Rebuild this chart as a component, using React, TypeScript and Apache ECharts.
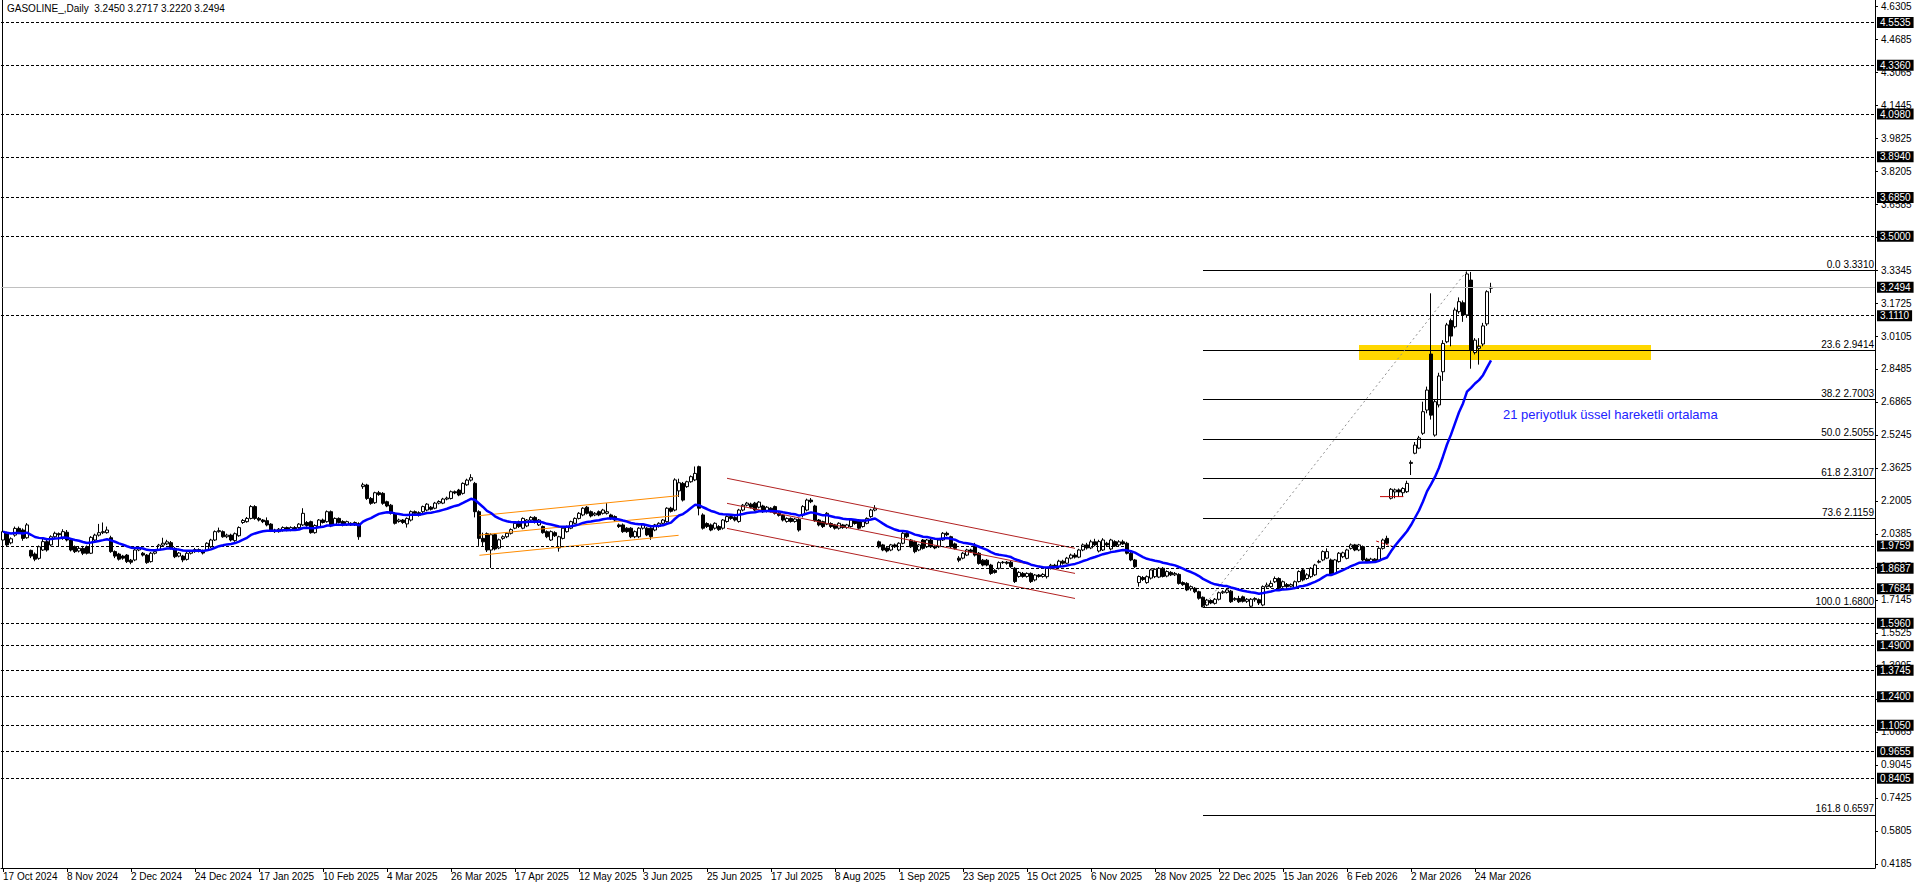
import React, { useEffect, useRef } from "react";
import * as echarts from "echarts";

// ---------- texts ----------
const titleText = "GASOLINE_,Daily  3.2450 3.2717 3.2220 3.2494";
const emaNote = "21 periyotluk üssel hareketli ortalama";

// ---------- axes ----------
const dateLabels = [
  "17 Oct 2024", "8 Nov 2024", "2 Dec 2024", "24 Dec 2024", "17 Jan 2025", "10 Feb 2025",
  "4 Mar 2025", "26 Mar 2025", "17 Apr 2025", "12 May 2025", "3 Jun 2025", "25 Jun 2025",
  "17 Jul 2025", "8 Aug 2025", "1 Sep 2025", "23 Sep 2025", "15 Oct 2025", "6 Nov 2025",
  "28 Nov 2025", "22 Dec 2025", "15 Jan 2026", "6 Feb 2026", "2 Mar 2026", "24 Mar 2026",
];
const barsPerDateLabel = 16;
const priceTicks = [
  "0.4185", "0.5805", "0.7425", "0.9045", "1.0665", "1.2285", "1.3905", "1.5525", "1.7145",
  "1.8765", "2.0385", "2.2005", "2.3625", "2.5245", "2.6865", "2.8485", "3.0105", "3.1725",
  "3.3345", "3.4965", "3.6585", "3.8205", "3.9825", "4.1445", "4.3065", "4.4685", "4.6305",
];

// ---------- horizontal lines ----------
const dashedLevels = [
  4.5535, 4.336, 4.098, 3.894, 3.685, 3.5, 3.111, 1.9759, 1.8687, 1.7684, 1.596, 1.49,
  1.3745, 1.24, 1.105, 0.9655, 0.8405,
];
const bidPrice = 3.2494;

// ---------- fibonacci ----------
const fibFrom = [300, 1.68];
const fibTo = [366, 3.331];
const fibPct = ["0.0", "23.6", "38.2", "50.0", "61.8", "73.6", "100.0", "161.8"];
const fibPrice = [3.331, 2.9414, 2.7003, 2.5055, 2.3107, 2.1159, 1.68, 0.6597];

// ---------- drawn objects (bar index, price) ----------
const orangeTop = [[119.1, 2.1285], [168.9, 2.2267]];
const orangeMid = [[119.1, 2.033], [168.9, 2.13]];
const orangeBot = [[119.1, 1.934], [168.9, 2.032]];
const redTop = [[181, 2.312], [268, 1.968]];
const redMid = [[181, 2.189], [268, 1.845]];
const redBot = [[181, 2.066], [268, 1.722]];
const redMarkA = [[343.3, 2.004], [347.6, 1.976]];
const redMarkB = [[344.25, 2.222], [350.1, 2.222]];
const yellowZone = [[339, 2.966], [412, 2.893]];
const emaPeriod = 21;

// ---------- candles [open, close, low, high] ----------
const seg00 = [
  [2.009, 2.05, 2.0, 2.06], [2.045, 1.985, 1.975, 2.05], [1.995, 2.015, 1.988, 2.022], [2.033, 2.066, 2.025, 2.075],
  [2.066, 2.045, 2.038, 2.075], [2.058, 2.017, 2.005, 2.066], [2.02, 2.083, 2.015, 2.092], [1.958, 1.93, 1.92, 1.962],
  [1.94, 1.915, 1.905, 1.948], [1.919, 1.976, 1.912, 1.982], [1.96, 2.001, 1.955, 2.018], [2.001, 1.96, 1.952, 2.01],
  [1.985, 2.025, 1.978, 2.032], [2.025, 2.042, 2.018, 2.05], [2.04, 2.035, 1.976, 2.046], [2.017, 2.05, 2.01, 2.062],
];
const seg01 = [
  [2.047, 2.009, 2.002, 2.058], [2.009, 1.96, 1.953, 2.015], [1.976, 1.952, 1.945, 1.982], [1.955, 1.968, 1.948, 1.975],
  [1.968, 1.944, 1.935, 1.98], [1.976, 1.944, 1.938, 1.982], [1.944, 2.022, 1.94, 2.028], [2.009, 2.033, 2.004, 2.04],
  [2.033, 2.045, 2.026, 2.088], [2.045, 2.05, 2.038, 2.095], [2.045, 2.058, 2.04, 2.075], [2.02, 1.952, 1.946, 2.03],
  [1.952, 1.93, 1.92, 1.958], [1.94, 1.915, 1.908, 1.946], [1.93, 1.92, 1.912, 1.936], [1.935, 1.903, 1.896, 1.94],
];
const seg02 = [
  [1.91, 1.9, 1.89, 1.916], [1.911, 1.96, 1.905, 1.965], [1.96, 1.97, 1.954, 1.978], [1.944, 1.935, 1.928, 1.95],
  [1.935, 1.898, 1.892, 1.94], [1.903, 1.944, 1.898, 1.95], [1.944, 1.952, 1.938, 1.958], [1.96, 1.984, 1.955, 1.99],
  [1.984, 1.993, 1.978, 2.02], [1.99, 2.0, 1.984, 2.01], [1.996, 1.968, 1.962, 2.004], [1.968, 1.927, 1.92, 1.974],
  [1.93, 1.945, 1.924, 1.95], [1.93, 1.911, 1.9, 1.936], [1.914, 1.944, 1.908, 1.95], [1.944, 1.952, 1.938, 1.958],
];
const seg03 = [
  [1.952, 1.962, 1.946, 1.97], [1.962, 1.955, 1.948, 1.968], [1.955, 1.945, 1.938, 1.962], [1.96, 1.993, 1.955, 1.998],
  [1.976, 2.009, 1.97, 2.015], [2.009, 2.05, 2.004, 2.056], [2.05, 2.055, 2.045, 2.07], [2.05, 2.025, 2.02, 2.056],
  [2.025, 2.033, 2.018, 2.04], [2.033, 2.009, 2.002, 2.04], [2.006, 2.04, 2.0, 2.046], [2.03, 2.07, 2.025, 2.076],
  [2.095, 2.105, 2.088, 2.112], [2.099, 2.115, 2.094, 2.122], [2.115, 2.173, 2.11, 2.18], [2.173, 2.115, 2.108, 2.18],
];
const seg04 = [
  [2.115, 2.107, 2.1, 2.122], [2.107, 2.099, 2.092, 2.112], [2.104, 2.083, 2.076, 2.12], [2.087, 2.055, 2.048, 2.092],
  [2.058, 2.05, 2.044, 2.064], [2.05, 2.062, 2.045, 2.068], [2.055, 2.07, 2.05, 2.076], [2.07, 2.058, 2.052, 2.075],
  [2.058, 2.07, 2.052, 2.076], [2.07, 2.062, 2.056, 2.077], [2.07, 2.087, 2.064, 2.092], [2.083, 2.14, 2.078, 2.165],
  [2.095, 2.08, 2.074, 2.102], [2.099, 2.045, 2.04, 2.104], [2.045, 2.08, 2.04, 2.086], [2.074, 2.107, 2.068, 2.112],
];
const seg05 = [
  [2.107, 2.095, 2.09, 2.114], [2.099, 2.148, 2.094, 2.154], [2.148, 2.078, 2.072, 2.154], [2.083, 2.115, 2.078, 2.12],
  [2.115, 2.095, 2.09, 2.12], [2.1, 2.083, 2.076, 2.106], [2.083, 2.099, 2.078, 2.104], [2.091, 2.083, 2.078, 2.096],
  [2.083, 2.095, 2.078, 2.1], [2.09, 2.025, 2.01, 2.096], [2.271, 2.28, 2.26, 2.29], [2.279, 2.213, 2.206, 2.285],
  [2.213, 2.189, 2.182, 2.22], [2.192, 2.241, 2.186, 2.246], [2.241, 2.232, 2.226, 2.25], [2.238, 2.189, 2.182, 2.244],
];
const seg06 = [
  [2.197, 2.176, 2.17, 2.202], [2.18, 2.14, 2.134, 2.186], [2.14, 2.091, 2.085, 2.146], [2.1, 2.107, 2.094, 2.114],
  [2.107, 2.095, 2.088, 2.112], [2.088, 2.115, 2.07, 2.12], [2.107, 2.148, 2.1, 2.154], [2.148, 2.14, 2.134, 2.154],
  [2.143, 2.13, 2.124, 2.15], [2.148, 2.173, 2.142, 2.178], [2.156, 2.185, 2.15, 2.19], [2.17, 2.16, 2.154, 2.176],
  [2.165, 2.19, 2.16, 2.196], [2.19, 2.198, 2.184, 2.204], [2.19, 2.21, 2.185, 2.216], [2.21, 2.215, 2.204, 2.222],
];
const seg07 = [
  [2.213, 2.246, 2.208, 2.252], [2.246, 2.24, 2.234, 2.252], [2.254, 2.23, 2.224, 2.26], [2.238, 2.287, 2.232, 2.292],
  [2.28, 2.303, 2.275, 2.31], [2.303, 2.315, 2.296, 2.332], [2.287, 2.148, 2.12, 2.294], [2.148, 2.017, 1.98, 2.155],
  [2.017, 2.0, 1.98, 2.045], [2.04, 1.96, 1.95, 2.046], [1.96, 2.035, 1.872, 2.042], [2.035, 1.965, 1.958, 2.04],
  [1.97, 2.01, 1.964, 2.016], [2.017, 2.025, 2.01, 2.032], [2.025, 2.042, 2.018, 2.048], [2.042, 2.06, 2.036, 2.066],
];
const seg08 = [
  [2.067, 2.091, 2.062, 2.096], [2.099, 2.075, 2.068, 2.104], [2.067, 2.115, 2.062, 2.12], [2.078, 2.107, 2.072, 2.112],
  [2.107, 2.12, 2.1, 2.126], [2.12, 2.095, 2.09, 2.126], [2.083, 2.107, 2.078, 2.112], [2.075, 2.045, 2.04, 2.08],
  [2.05, 2.025, 2.018, 2.056], [2.009, 2.05, 2.004, 2.056], [2.045, 2.03, 2.024, 2.052], [1.97, 2.025, 1.952, 2.03],
  [2.017, 2.067, 2.012, 2.072], [2.05, 2.075, 2.045, 2.08], [2.067, 2.099, 2.062, 2.104], [2.091, 2.115, 2.086, 2.12],
];
const seg09 = [
  [2.115, 2.14, 2.11, 2.146], [2.132, 2.165, 2.126, 2.17], [2.17, 2.14, 2.134, 2.176], [2.148, 2.127, 2.12, 2.154],
  [2.132, 2.14, 2.126, 2.146], [2.148, 2.132, 2.126, 2.154], [2.14, 2.156, 2.134, 2.162], [2.14, 2.148, 2.134, 2.19],
  [2.132, 2.115, 2.108, 2.138], [2.124, 2.107, 2.1, 2.13], [2.083, 2.075, 2.068, 2.09], [2.083, 2.05, 2.044, 2.09],
  [2.067, 2.05, 2.044, 2.072], [2.067, 2.025, 2.018, 2.072], [2.025, 2.05, 2.018, 2.056], [2.025, 2.067, 2.018, 2.072],
];
const seg10 = [
  [2.067, 2.083, 2.06, 2.09], [2.067, 2.034, 2.028, 2.072], [2.067, 2.025, 2.01, 2.072], [2.058, 2.083, 2.052, 2.088],
  [2.075, 2.091, 2.07, 2.096], [2.091, 2.107, 2.086, 2.112], [2.099, 2.165, 2.094, 2.17], [2.165, 2.15, 2.144, 2.172],
  [2.156, 2.304, 2.15, 2.312], [2.25, 2.29, 2.22, 2.31], [2.287, 2.205, 2.198, 2.294], [2.271, 2.295, 2.265, 2.3],
  [2.295, 2.32, 2.29, 2.326], [2.304, 2.336, 2.298, 2.37], [2.369, 2.165, 2.13, 2.374], [2.132, 2.067, 2.06, 2.14],
];
const seg11 = [
  [2.09, 2.075, 2.068, 2.096], [2.083, 2.058, 2.052, 2.09], [2.067, 2.091, 2.06, 2.096], [2.075, 2.06, 2.054, 2.082],
  [2.067, 2.107, 2.06, 2.112], [2.1, 2.124, 2.094, 2.13], [2.124, 2.115, 2.108, 2.13], [2.12, 2.107, 2.1, 2.126],
  [2.1, 2.156, 2.094, 2.162], [2.156, 2.18, 2.15, 2.186], [2.18, 2.19, 2.174, 2.196], [2.185, 2.17, 2.164, 2.192],
  [2.19, 2.156, 2.15, 2.196], [2.17, 2.195, 2.164, 2.2], [2.176, 2.148, 2.142, 2.182], [2.15, 2.17, 2.144, 2.176],
];
const seg12 = [
  [2.165, 2.15, 2.144, 2.17], [2.173, 2.14, 2.134, 2.178], [2.14, 2.13, 2.124, 2.146], [2.13, 2.107, 2.1, 2.136],
  [2.1, 2.115, 2.094, 2.12], [2.115, 2.1, 2.094, 2.12], [2.1, 2.112, 2.094, 2.118], [2.11, 2.058, 2.05, 2.116],
  [2.132, 2.173, 2.12, 2.18], [2.156, 2.205, 2.15, 2.212], [2.205, 2.197, 2.19, 2.215], [2.176, 2.104, 2.098, 2.182],
  [2.107, 2.083, 2.076, 2.112], [2.099, 2.075, 2.068, 2.104], [2.087, 2.14, 2.082, 2.146], [2.09, 2.075, 2.068, 2.096],
];
const seg13 = [
  [2.083, 2.067, 2.06, 2.088], [2.067, 2.091, 2.06, 2.096], [2.083, 2.07, 2.064, 2.088], [2.07, 2.083, 2.064, 2.088],
  [2.075, 2.107, 2.07, 2.112], [2.107, 2.09, 2.084, 2.112], [2.107, 2.067, 2.06, 2.112], [2.075, 2.099, 2.07, 2.104],
  [2.091, 2.115, 2.086, 2.12], [2.124, 2.156, 2.118, 2.162], [2.156, 2.165, 2.15, 2.18], [2.0, 1.976, 1.968, 2.006],
  [1.985, 1.96, 1.954, 1.99], [1.97, 1.955, 1.948, 1.976], [1.96, 1.985, 1.954, 1.99], [1.985, 1.976, 1.97, 1.992],
];
const seg14 = [
  [1.96, 1.993, 1.954, 1.998], [1.993, 2.042, 1.988, 2.048], [2.042, 2.025, 2.018, 2.048], [2.009, 1.976, 1.97, 2.014],
  [2.0, 1.952, 1.944, 2.006], [1.96, 1.985, 1.954, 1.99], [2.009, 1.968, 1.962, 2.014], [1.976, 2.009, 1.97, 2.014],
  [2.009, 1.976, 1.97, 2.014], [1.976, 1.97, 1.964, 1.982], [1.976, 2.009, 1.97, 2.014], [2.009, 2.042, 2.004, 2.048],
  [2.042, 2.035, 2.028, 2.05], [2.025, 1.976, 1.97, 2.03], [1.99, 1.968, 1.962, 1.996], [1.92, 1.91, 1.9, 1.93],
];
const seg15 = [
  [1.92, 1.944, 1.914, 1.95], [1.935, 1.96, 1.93, 1.966], [1.96, 1.952, 1.946, 1.966], [1.976, 1.935, 1.928, 1.995],
  [1.944, 1.894, 1.888, 1.95], [1.91, 1.886, 1.88, 1.916], [1.91, 1.886, 1.88, 1.916], [1.886, 1.845, 1.838, 1.892],
  [1.86, 1.85, 1.844, 1.866], [1.87, 1.898, 1.864, 1.904], [1.898, 1.9, 1.892, 1.906], [1.9, 1.895, 1.888, 1.906],
  [1.9, 1.878, 1.872, 1.906], [1.87, 1.805, 1.798, 1.876], [1.83, 1.85, 1.824, 1.856], [1.845, 1.83, 1.824, 1.852],
];
const seg16 = [
  [1.83, 1.845, 1.824, 1.85], [1.845, 1.805, 1.798, 1.85], [1.813, 1.837, 1.806, 1.842], [1.837, 1.83, 1.824, 1.842],
  [1.83, 1.84, 1.824, 1.846], [1.829, 1.87, 1.82, 1.876], [1.87, 1.885, 1.864, 1.892], [1.885, 1.878, 1.87, 1.892],
  [1.878, 1.905, 1.872, 1.912], [1.905, 1.895, 1.888, 1.912], [1.895, 1.92, 1.89, 1.926], [1.92, 1.935, 1.914, 1.942],
  [1.935, 1.925, 1.918, 1.945], [1.925, 1.96, 1.92, 1.966], [1.96, 1.985, 1.954, 1.992], [1.985, 1.97, 1.962, 1.995],
];
const seg17 = [
  [1.97, 2.0, 1.964, 2.01], [2.0, 1.985, 1.978, 2.015], [1.955, 2.001, 1.948, 2.01], [1.96, 2.009, 1.955, 2.018],
  [1.993, 1.985, 1.978, 2.0], [1.965, 2.009, 1.958, 2.015], [2.001, 1.98, 1.975, 2.008], [1.985, 2.0, 1.98, 2.008],
  [2.0, 1.99, 1.985, 2.01], [1.993, 1.944, 1.938, 2.0], [1.944, 1.911, 1.905, 1.95], [1.911, 1.878, 1.872, 1.916],
  [1.8, 1.83, 1.78, 1.835], [1.825, 1.815, 1.808, 1.832], [1.8, 1.829, 1.794, 1.835], [1.822, 1.862, 1.815, 1.868],
];
const seg18 = [
  [1.829, 1.865, 1.822, 1.87], [1.827, 1.87, 1.822, 1.876], [1.87, 1.83, 1.825, 1.876], [1.832, 1.854, 1.826, 1.86],
  [1.85, 1.838, 1.832, 1.856], [1.838, 1.845, 1.832, 1.852], [1.84, 1.796, 1.79, 1.846], [1.8, 1.79, 1.784, 1.806],
  [1.796, 1.764, 1.758, 1.802], [1.77, 1.78, 1.76, 1.786], [1.772, 1.755, 1.748, 1.778], [1.755, 1.723, 1.716, 1.76],
  [1.728, 1.68, 1.68, 1.732], [1.69, 1.714, 1.684, 1.72], [1.712, 1.7, 1.694, 1.718], [1.698, 1.718, 1.692, 1.724],
];
const seg19 = [
  [1.718, 1.75, 1.712, 1.756], [1.75, 1.755, 1.744, 1.762], [1.752, 1.764, 1.746, 1.772], [1.758, 1.706, 1.7, 1.764],
  [1.716, 1.722, 1.71, 1.728], [1.722, 1.706, 1.7, 1.735], [1.73, 1.708, 1.702, 1.736], [1.708, 1.718, 1.7, 1.724],
  [1.684, 1.718, 1.676, 1.724], [1.716, 1.722, 1.706, 1.728], [1.716, 1.7, 1.69, 1.722], [1.69, 1.78, 1.684, 1.786],
  [1.78, 1.788, 1.774, 1.8], [1.78, 1.796, 1.774, 1.81], [1.804, 1.82, 1.798, 1.83], [1.82, 1.772, 1.766, 1.826],
];
const seg20 = [
  [1.78, 1.804, 1.774, 1.81], [1.79, 1.78, 1.774, 1.798], [1.782, 1.79, 1.776, 1.796], [1.773, 1.804, 1.768, 1.81],
  [1.805, 1.854, 1.8, 1.86], [1.862, 1.813, 1.806, 1.868], [1.82, 1.838, 1.814, 1.846], [1.829, 1.87, 1.822, 1.876],
  [1.838, 1.886, 1.832, 1.892], [1.9, 1.904, 1.894, 1.912], [1.911, 1.952, 1.905, 1.958], [1.92, 1.952, 1.915, 1.968],
  [1.911, 1.838, 1.832, 1.918], [1.845, 1.911, 1.838, 1.916], [1.903, 1.944, 1.898, 1.95], [1.927, 1.946, 1.92, 1.952],
];
const seg21 = [
  [1.919, 1.96, 1.914, 1.966], [1.968, 1.985, 1.962, 1.992], [1.985, 1.96, 1.954, 1.99], [1.96, 1.985, 1.954, 1.99],
  [1.976, 1.911, 1.905, 1.982], [1.915, 1.903, 1.896, 1.922], [1.903, 1.915, 1.896, 1.922], [1.915, 1.905, 1.898, 1.92],
  [1.911, 1.968, 1.905, 1.974], [1.968, 2.009, 1.962, 2.016], [2.017, 1.993, 1.986, 2.03], [2.214, 2.258, 2.208, 2.264],
  [2.245, 2.255, 2.214, 2.262], [2.255, 2.245, 2.22, 2.262], [2.241, 2.262, 2.222, 2.268], [2.246, 2.287, 2.24, 2.3],
];
const seg22 = [
  [2.385, 2.39, 2.328, 2.4], [2.435, 2.475, 2.43, 2.49], [2.46, 2.51, 2.455, 2.52], [2.533, 2.639, 2.525, 2.688],
  [2.647, 2.745, 2.631, 2.762], [2.922, 2.622, 2.6, 3.22], [2.524, 2.688, 2.516, 2.7], [2.672, 2.814, 2.66, 2.83],
  [2.835, 2.974, 2.79, 2.99], [2.982, 3.065, 2.975, 3.075], [3.086, 3.01, 2.96, 3.096], [3.056, 3.138, 3.048, 3.15],
  [3.13, 3.179, 3.12, 3.2], [3.174, 3.114, 3.08, 3.185], [3.114, 3.315, 3.1, 3.331], [3.285, 2.942, 2.85, 3.325],
];
const seg23 = [
  [2.929, 2.99, 2.92, 3.0], [2.95, 2.96, 2.87, 3.0], [2.971, 3.06, 2.96, 3.075], [3.07, 3.228, 3.06, 3.235],
  [3.245, 3.2494, 3.222, 3.2717],
];

const candles = [
  ...seg00, ...seg01, ...seg02, ...seg03, ...seg04, ...seg05, ...seg06, ...seg07, ...seg08, ...seg09,
  ...seg10, ...seg11, ...seg12, ...seg13, ...seg14, ...seg15, ...seg16, ...seg17, ...seg18, ...seg19,
  ...seg20, ...seg21, ...seg22, ...seg23,
];

const FONT = '"Liberation Sans", Arial, sans-serif';
const X_MAX = 468;

function buildOption() {
  const candleData = candles.map((c, i) => [i, c[0], c[1], c[2], c[3]]);
  // 21-period exponential moving average of the closes (indicator of the chart)
  const k = 2 / (emaPeriod + 1);
  const ema: number[][] = [];
  let e = candles[0][1];
  candles.forEach((c, i) => {
    e = i === 0 ? c[1] : e + k * (c[1] - e);
    ema.push([i, e]);
  });

  const priceTickValues = priceTicks.map((s) => parseFloat(s));
  const dateTickBars = dateLabels.map((_, i) => i * barsPerDateLabel);

  const boxLabel = {
    show: true,
    position: "end",
    distance: 2,
    color: "#fff",
    backgroundColor: "#000",
    padding: [1, 3, 0, 3],
    fontSize: 10,
    fontFamily: FONT,
  };

  const markLines: any[] = [];
  dashedLevels.forEach((v) => {
    markLines.push({
      yAxis: v,
      lineStyle: { color: "#000", width: 1, type: [3, 2] },
      label: { ...boxLabel, formatter: v.toFixed(4) },
    });
  });
  markLines.push({
    yAxis: bidPrice,
    lineStyle: { color: "#c0c0c0", width: 1, type: "solid" },
    label: { ...boxLabel, formatter: bidPrice.toFixed(4) },
  });
  fibPrice.forEach((p, i) => {
    markLines.push([
      {
        coord: [fibFrom[0], p],
        lineStyle: { color: "#000", width: 1, type: "solid" },
        label: {
          show: true,
          position: "insideEndTop",
          distance: 1,
          formatter: `${fibPct[i]} ${p.toFixed(4)}`,
          color: "#000",
          fontSize: 10,
          fontFamily: FONT,
        },
      },
      { coord: [X_MAX, p] },
    ]);
  });
  markLines.push([
    {
      coord: fibFrom,
      lineStyle: { color: "#909090", width: 1, type: [2, 3] },
      label: { show: false },
    },
    { coord: fibTo },
  ]);

  const trend = (pts: number[][], color: string, type: any = "solid") => ({
    type: "line",
    data: pts,
    symbol: "none",
    showSymbol: false,
    silent: true,
    z: 4,
    lineStyle: { color, width: 1, type },
  });

  return {
    animation: false,
    backgroundColor: "#fff",
    grid: { left: 1, right: 41, top: 0, bottom: 20, containLabel: false },
    xAxis: {
      type: "value",
      min: -0.5,
      max: X_MAX,
      axisLine: { show: true, onZero: false, lineStyle: { color: "#000", width: 1 } },
      axisTick: { show: true, length: 4, customValues: dateTickBars, lineStyle: { color: "#000" } },
      axisLabel: {
        customValues: dateTickBars,
        formatter: (v: number) => dateLabels[Math.round(v / barsPerDateLabel)] ?? "",
        align: "left",
        fontSize: 10,
        color: "#000",
        margin: 3,
        fontFamily: FONT,
      },
      splitLine: { show: false },
    },
    yAxis: {
      type: "value",
      position: "right",
      min: 0.3988,
      max: 4.66,
      axisLine: { show: true, onZero: false, lineStyle: { color: "#000", width: 1 } },
      axisTick: { show: true, length: 3, customValues: priceTickValues, lineStyle: { color: "#000" } },
      axisLabel: {
        customValues: priceTickValues,
        formatter: (v: number) => v.toFixed(4),
        fontSize: 10,
        color: "#000",
        margin: 6,
        fontFamily: FONT,
      },
      splitLine: { show: false },
    },
    series: [
      {
        type: "candlestick",
        data: candleData,
        encode: { x: 0, y: [1, 2, 3, 4] },
        barWidth: 3,
        z: 3,
        silent: true,
        itemStyle: {
          color: "#fff",
          color0: "#000",
          borderColor: "#000",
          borderColor0: "#000",
          borderWidth: 1,
        },
        markArea: {
          silent: true,
          itemStyle: { color: "#FFD700", opacity: 1 },
          data: [[{ coord: yellowZone[0] }, { coord: yellowZone[1] }]],
        },
        markLine: {
          silent: true,
          symbol: ["none", "none"],
          animation: false,
          data: markLines,
        },
      },
      trend(orangeTop, "#FF8C00"),
      trend(orangeMid, "#FF8C00"),
      trend(orangeBot, "#FF8C00"),
      trend(redTop, "#B22222"),
      trend(redMid, "#B22222"),
      trend(redBot, "#B22222"),
      trend(redMarkA, "#C00000", [3, 2]),
      trend(redMarkB, "#C00000"),
      {
        type: "line",
        data: ema,
        symbol: "none",
        showSymbol: false,
        silent: true,
        z: 6,
        lineStyle: { color: "#0000FF", width: 2.5 },
      },
    ],
    graphic: [
      { type: "line", shape: { x1: 2.5, y1: 0, x2: 2.5, y2: 868 }, style: { stroke: "#000", lineWidth: 1 }, silent: true },
      {
        type: "text",
        left: 7,
        top: 3,
        style: { text: titleText, fill: "#000", fontSize: 10, fontFamily: FONT },
        silent: true,
      },
      {
        type: "text",
        left: 1503,
        top: 408,
        style: { text: emaNote, fill: "#2222ff", fontSize: 13, fontFamily: FONT },
        silent: true,
      },
    ],
  };
}

export default function App() {
  const ref = useRef<HTMLDivElement>(null);
  useEffect(() => {
    if (!ref.current) return;
    const chart = echarts.init(ref.current, null, { renderer: "svg" });
    chart.setOption(buildOption() as any);
    return () => chart.dispose();
  }, []);
  return (
    <div
      ref={ref}
      style={{ position: "fixed", left: 0, top: 0, width: 1916, height: 888, background: "#fff" }}
    />
  );
}
